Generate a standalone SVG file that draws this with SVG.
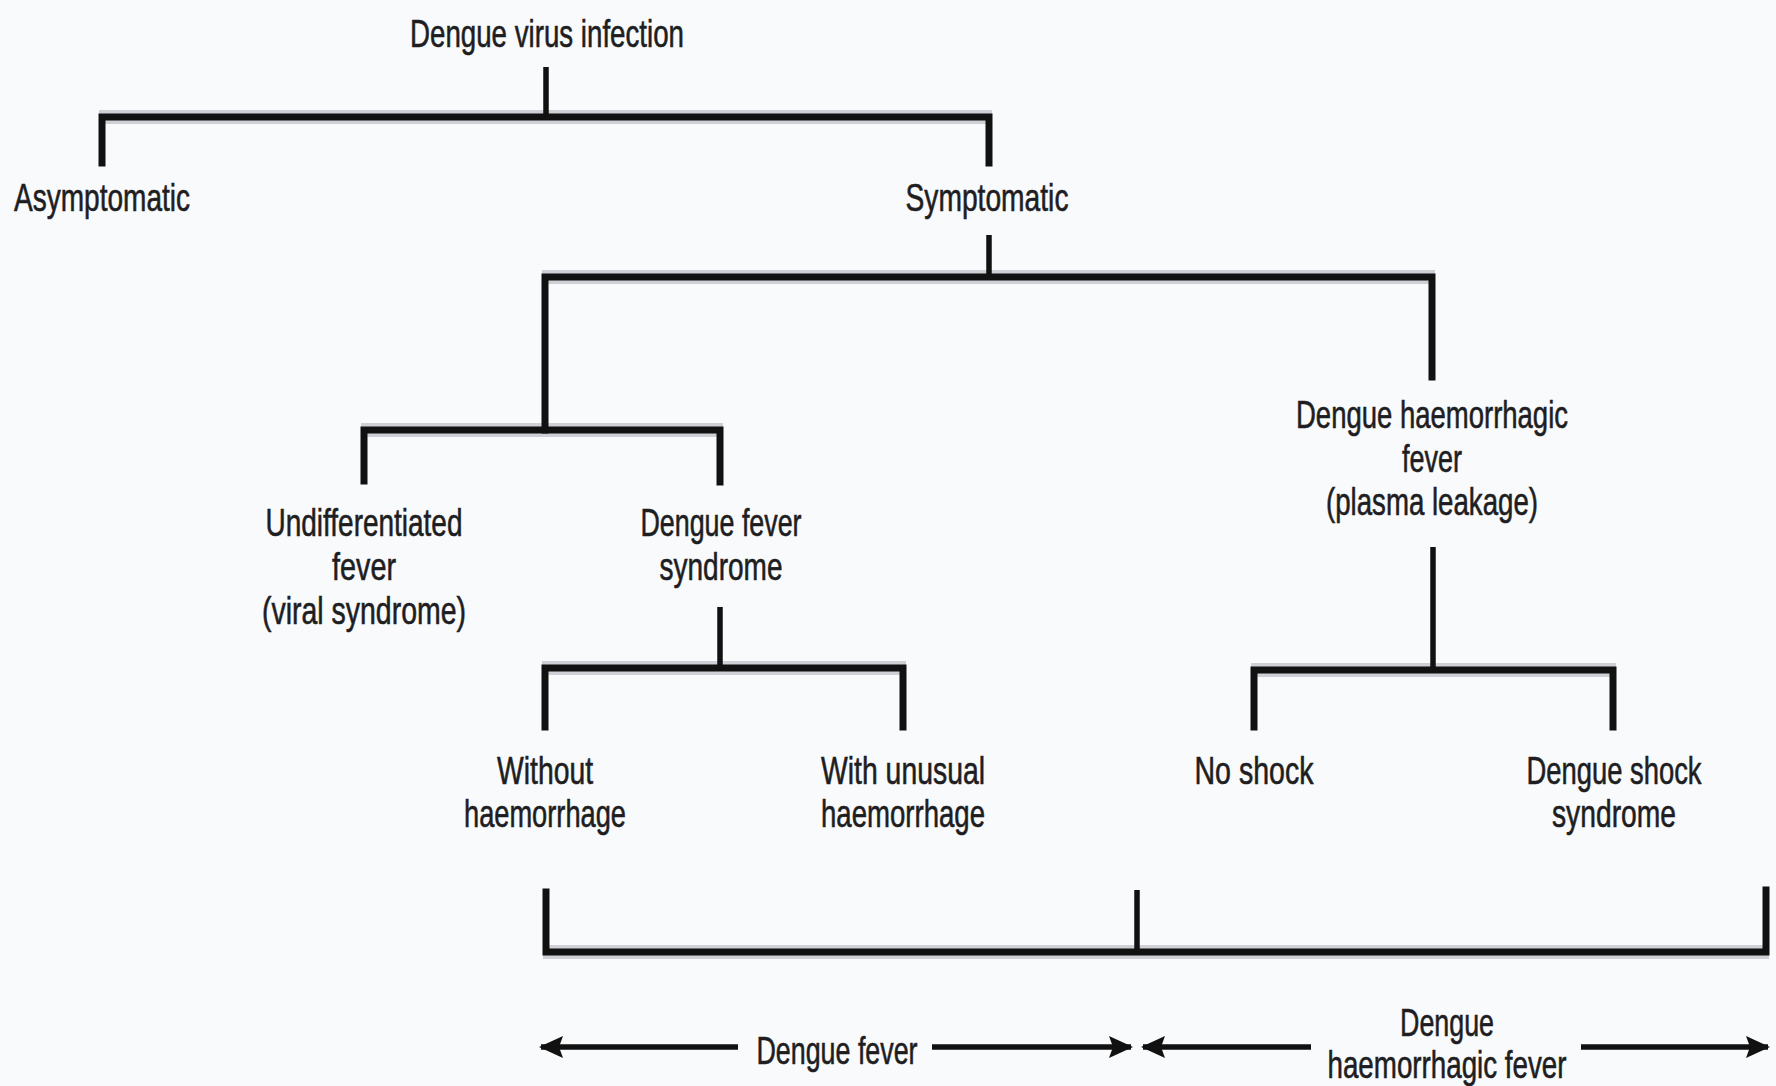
<svg xmlns="http://www.w3.org/2000/svg" width="1776" height="1086" viewBox="0 0 1776 1086">
  <defs>
    <style>
      .bg { fill: #f9fafc; }
      .t { font-family: "Liberation Sans Narrow", "Liberation Sans", Arial, sans-serif; font-size: 38px; fill: #1e1e22; stroke: #1e1e22; stroke-width: 0.6; text-anchor: middle; }
      .halo { stroke: #cfd0d6; stroke-width: 14; fill: none; stroke-linecap: butt; }
      .h { stroke: #111; stroke-width: 7; fill: none; stroke-linecap: square; stroke-linejoin: miter; }
      .v { stroke: #111; stroke-width: 5.5; fill: none; }
      .a { stroke: #111; stroke-width: 5.5; fill: none; }
    </style>
    <marker id="ah" viewBox="0 0 24 24" refX="22" refY="12" markerWidth="24" markerHeight="24" markerUnits="userSpaceOnUse" orient="auto-start-reverse">
      <path d="M0,1 L24,12 L0,23 L4,12 Z" fill="#111"/>
    </marker>
  </defs>
  <rect class="bg" x="0" y="0" width="1776" height="1086"/>

  <g id="connectors">
    <!-- light halos under horizontal bars -->
    <path class="halo" d="M99,117 H992"/>
    <path class="halo" d="M542,277 H1435"/>
    <path class="halo" d="M361,430 H723"/>
    <path class="halo" d="M542,668 H906"/>
    <path class="halo" d="M1251,670 H1616"/>
    <path class="halo" d="M543,952 H1769"/>
    <!-- root -->
    <path class="v" d="M546,67 V117"/>
    <path class="h" d="M102,163 V117 H989 V163"/>
    <!-- symptomatic -->
    <path class="v" d="M989,235 V277"/>
    <path class="h" d="M545,430 V277 H1432 V377"/>
    <!-- left branch -->
    <path class="h" d="M364,481 V430 H720 V482"/>
    <!-- dengue fever syndrome -->
    <path class="v" d="M720,607 V668"/>
    <path class="h" d="M545,727 V668 H903 V727"/>
    <!-- DHF -->
    <path class="v" d="M1433,547 V670"/>
    <path class="h" d="M1254,727 V670 H1613 V727"/>
    <!-- bottom bracket -->
    <path class="h" d="M546,892 V952 H1766 V890"/>
    <path class="v" d="M1137,890 V952"/>
    <!-- range arrows -->
    <path class="a" d="M738,1047 H541" marker-end="url(#ah)"/>
    <path class="a" d="M932,1047 H1131" marker-end="url(#ah)"/>
    <path class="a" d="M1311,1047 H1143" marker-end="url(#ah)"/>
    <path class="a" d="M1581,1047 H1768" marker-end="url(#ah)"/>
  </g>

  <g id="n-root"><text class="t" x="547" y="47" textLength="274" lengthAdjust="spacingAndGlyphs">Dengue virus infection</text></g>
  <g id="n-asym"><text class="t" x="102" y="211" textLength="176" lengthAdjust="spacingAndGlyphs">Asymptomatic</text></g>
  <g id="n-sym"><text class="t" x="987" y="211" textLength="163" lengthAdjust="spacingAndGlyphs">Symptomatic</text></g>
  <g id="n-undiff">
    <text class="t" x="364" y="536" textLength="197" lengthAdjust="spacingAndGlyphs">Undifferentiated</text>
    <text class="t" x="364" y="580" textLength="64" lengthAdjust="spacingAndGlyphs">fever</text>
    <text class="t" x="364" y="624" textLength="204" lengthAdjust="spacingAndGlyphs">(viral syndrome)</text>
  </g>
  <g id="n-dfs">
    <text class="t" x="721" y="536" textLength="161" lengthAdjust="spacingAndGlyphs">Dengue fever</text>
    <text class="t" x="721" y="580" textLength="123" lengthAdjust="spacingAndGlyphs">syndrome</text>
  </g>
  <g id="n-dhf">
    <text class="t" x="1432" y="428" textLength="272" lengthAdjust="spacingAndGlyphs">Dengue haemorrhagic</text>
    <text class="t" x="1432" y="472" textLength="60" lengthAdjust="spacingAndGlyphs">fever</text>
    <text class="t" x="1432" y="515" textLength="212" lengthAdjust="spacingAndGlyphs">(plasma leakage)</text>
  </g>
  <g id="n-without">
    <text class="t" x="545" y="784" textLength="96" lengthAdjust="spacingAndGlyphs">Without</text>
    <text class="t" x="545" y="827" textLength="162" lengthAdjust="spacingAndGlyphs">haemorrhage</text>
  </g>
  <g id="n-unusual">
    <text class="t" x="903" y="784" textLength="164" lengthAdjust="spacingAndGlyphs">With unusual</text>
    <text class="t" x="903" y="827" textLength="164" lengthAdjust="spacingAndGlyphs">haemorrhage</text>
  </g>
  <g id="n-noshock"><text class="t" x="1254" y="784" textLength="119" lengthAdjust="spacingAndGlyphs">No shock</text></g>
  <g id="n-dss">
    <text class="t" x="1614" y="784" textLength="175" lengthAdjust="spacingAndGlyphs">Dengue shock</text>
    <text class="t" x="1614" y="827" textLength="124" lengthAdjust="spacingAndGlyphs">syndrome</text>
  </g>
  <g id="n-range-df"><text class="t" x="837" y="1064" textLength="161" lengthAdjust="spacingAndGlyphs">Dengue fever</text></g>
  <g id="n-range-dhf">
    <text class="t" x="1447" y="1036" textLength="94" lengthAdjust="spacingAndGlyphs">Dengue</text>
    <text class="t" x="1447" y="1078" textLength="239" lengthAdjust="spacingAndGlyphs">haemorrhagic fever</text>
  </g>
</svg>
